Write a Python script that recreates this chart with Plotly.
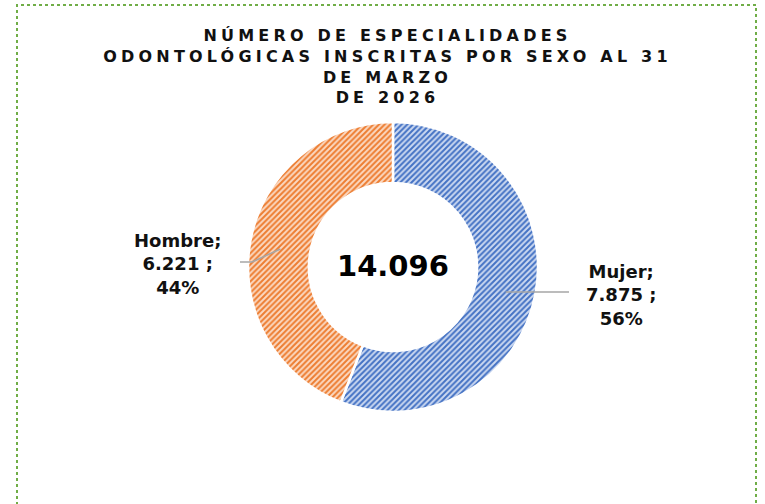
import math
import plotly.graph_objects as go

labels = ["Mujer", "Hombre"]
values = [7875, 6221]
percents = ["56%", "44%"]
value_text = ["7.875", "6.221"]
total_text = "14.096"
title_lines = ["NÚMERO DE ESPECIALIDADES", "ODONTOLÓGICAS INSCRITAS POR SEXO AL 31", "DE MARZO", "DE 2026"]
colors = ["#4472C4", "#ED7D31"]
bg_colors = ["#ccd9f1", "#fbd9c2"]

W, H = 765, 504
cx, cy, R = 393, 267, 145
hole = 0.58

def px(x):
    return x / W

def py(y):
    return 1 - y / H

fig = go.Figure()
fig.add_trace(go.Pie(
    labels=labels, values=values, sort=False, direction="clockwise", rotation=0,
    hole=hole, textinfo="none", hoverinfo="label+value+percent",
    marker=dict(colors=bg_colors, line=dict(color="white", width=2.5),
                pattern=dict(shape="/", fgcolor=colors, bgcolor=bg_colors, size=4, solidity=0.5)),
    domain=dict(x=[px(cx - R), px(cx + R)], y=[py(cy + R), py(cy - R)]),
    showlegend=False,
))

total = sum(values)
cum = 0
label_pos = [(621, 295, 569), (177, 264, 240)]
for i, v in enumerate(values):
    mid = (cum + v / 2) / total
    cum += v
    ang = math.radians(90 - mid * 360)
    r = R * (1 + hole) / 2
    x0 = cx + r * math.cos(ang)
    y0 = cy - r * math.sin(ang)
    lx, ly, ex = label_pos[i]
    if i == 0:
        pts = [(x0, y0 + 4), (ex, y0 + 4)]
    else:
        pts = [(x0, y0 + 3), (ex + 12, ly - 2), (ex, ly - 2)]
    path = "M " + " L ".join(f"{px(a)},{py(b)}" for a, b in pts)
    fig.add_shape(type="path", path=path, xref="paper", yref="paper",
                  line=dict(color="#A6A6A6", width=1.5))
    fig.add_annotation(x=px(lx), y=py(ly), xref="paper", yref="paper",
                       xanchor="center", yanchor="middle",
                       text=f"<b>{labels[i]};<br>{value_text[i]} ;<br>{percents[i]}</b>",
                       showarrow=False, align="center",
                       font=dict(family="DejaVu Sans", size=18, color="#111111"))

fig.add_annotation(x=px(cx + 0.5), y=py(cy - 1), xref="paper", yref="paper",
                   xanchor="center", yanchor="middle",
                   text=f"<b>{total_text}</b>", showarrow=False,
                   font=dict(family="DejaVu Sans", size=29, color="black"))

# dotted green border
fig.add_shape(type="rect", xref="paper", yref="paper",
              x0=px(17), x1=px(756), y0=py(520), y1=py(5),
              line=dict(color="#70AD47", width=2, dash="dot"))

fig.update_layout(
    width=W, height=H, margin=dict(l=0, r=0, t=0, b=0),
    paper_bgcolor="white", plot_bgcolor="white",
    title=dict(text="<b>" + "<br>".join(title_lines) + "</b>", x=px(387.5), xanchor="center",
               y=py(41), yanchor="top",
               font=dict(family="DejaVu Sans", size=16, color="#111111")),
)

post = """
document.body.style.margin='0';
document.body.style.padding='0';
var els = document.querySelectorAll('.gtitle');
els.forEach(function(e){ e.style.letterSpacing='4.2px'; });
"""
fig.write_html("out.html", post_script=post, config={"displayModeBar": False})
